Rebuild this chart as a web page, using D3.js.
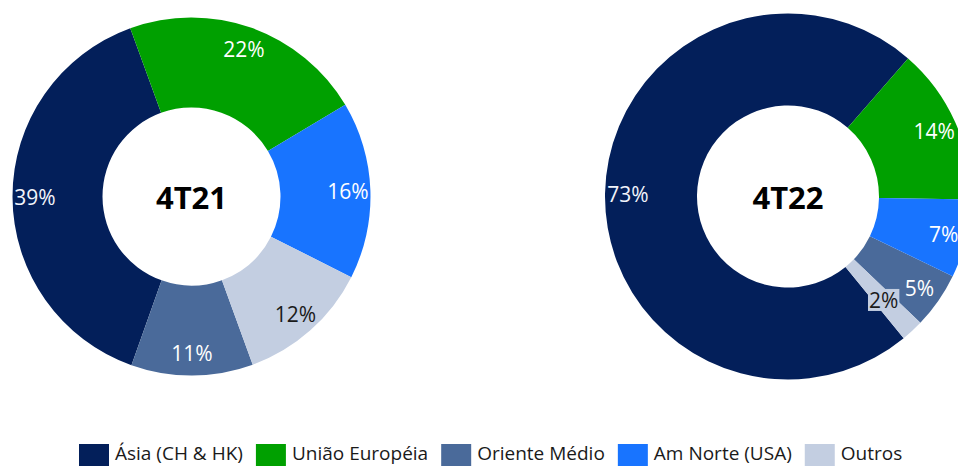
<!DOCTYPE html>
<html lang="pt">
<head>
<meta charset="UTF-8">
<title>Exportações por destino - 4T21 x 4T22</title>
<script src="https://d3js.org/d3.v7.min.js"></script>
<style>
    body { margin: 0; background: #fff; }
    svg { display: block; font-family: "Open Sans", "DejaVu Sans", sans-serif; }
    .slice-label { font-size: 21px; }
    .center-label { font-size: 31px; font-weight: bold; fill: #000; }
    .legend text { font-size: 19px; fill: #1a1a1a; }
</style>
</head>
<body>
<svg id="chart" width="958" height="466"></svg>
<script>
// regiões (ordem da legenda)
const regions = ["Ásia (CH & HK)", "União Européia", "Oriente Médio", "Am Norte (USA)", "Outros"];
const regionColors = ["#031f5a", "#00a000", "#4a6a9a", "#1874ff", "#c3cee1"];
const labelColors = ["#f2f4fa", "#ffffff", "#ffffff", "#ffffff", "#1a1a1a"];

// participação (%) por período
const periods = ["4T21", "4T22"];
const share4T21 = [39, 22, 11, 16, 12];
const share4T22 = [73, 14, 5, 7, 2];

const width = 958, height = 466;
const svg = d3.select("#chart");

// layout de cada rosca
const donuts = [
    { label: periods[0], values: share4T21, cx: 191.5, cy: 196.5, outer: 179, inner: 89, start: -20 },
    { label: periods[1], values: share4T22, cx: 788, cy: 196.5, outer: 183, inner: 91, start: 41 }
];

const color = d3.scaleOrdinal().domain(regions).range(regionColors);
const txtColor = d3.scaleOrdinal().domain(regions).range(labelColors);
const rad = d => d * Math.PI / 180;

donuts.forEach(dn => {
    const data = regions.map((r, i) => ({ region: r, value: dn.values[i] }));

    // Ásia por último, demais em ordem decrescente
    const pie = d3.pie()
        .value(d => d.value)
        .sort((a, b) => {
            if (a.region === regions[0]) return 1;
            if (b.region === regions[0]) return -1;
            return b.value - a.value;
        })
        .startAngle(rad(dn.start))
        .endAngle(rad(dn.start + 360));

    const arc = d3.arc().innerRadius(dn.inner).outerRadius(dn.outer);
    const labelArc = d3.arc().innerRadius(dn.outer * 0.875).outerRadius(dn.outer * 0.875);
    const smallArc = d3.arc().innerRadius(dn.outer * 0.77).outerRadius(dn.outer * 0.77);

    const g = svg.append("g").attr("transform", `translate(${dn.cx},${dn.cy})`);
    const arcs = pie(data);

    g.selectAll("path")
        .data(arcs)
        .enter()
        .append("path")
        .attr("d", arc)
        .attr("fill", d => color(d.data.region));

    arcs.forEach(a => {
        const small = a.data.value <= 2;
        const [x, y] = small ? smallArc.centroid(a) : labelArc.centroid(a);
        const t = g.append("text")
            .attr("class", "slice-label")
            .attr("x", x)
            .attr("y", y)
            .attr("text-anchor", "middle")
            .attr("dominant-baseline", "central")
            .attr("fill", txtColor(a.data.region))
            .text(a.data.value + "%");
        if (small) {
            // rótulo pequeno com fundo, como no original
            const bb = t.node().getBBox();
            g.insert("rect", "text")
                .attr("x", bb.x - 1)
                .attr("y", bb.y + 3)
                .attr("width", bb.width + 2)
                .attr("height", bb.height - 6)
                .attr("fill", color(a.data.region));
        }
    });

    g.append("text")
        .attr("class", "center-label")
        .attr("text-anchor", "middle")
        .attr("dominant-baseline", "central")
        .attr("y", 0)
        .text(dn.label);
});

// legenda
const legend = svg.append("g").attr("class", "legend");
let lx = 79;
regions.forEach((r, i) => {
    const item = legend.append("g").attr("transform", `translate(${lx},0)`);
    item.append("rect")
        .attr("x", 0)
        .attr("y", 444)
        .attr("width", 30)
        .attr("height", 22)
        .attr("fill", regionColors[i]);
    const t = item.append("text")
        .attr("x", 36)
        .attr("y", 460)
        .text(r);
    lx += 36 + t.node().getComputedTextLength() + 13;
});
</script>
</body>
</html>
